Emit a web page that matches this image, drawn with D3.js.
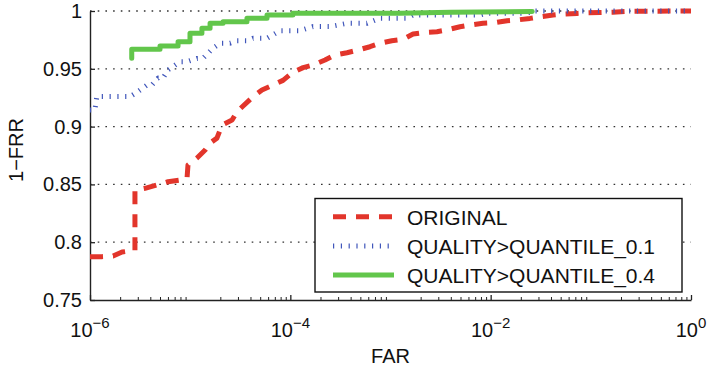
<!DOCTYPE html>
<html>
<head>
<meta charset="utf-8">
<script src="https://cdn.jsdelivr.net/npm/d3@7"></script>
<style>
  html, body { margin: 0; padding: 0; background: #fff; }
  svg { display: block; }
  text { font-family: "Liberation Sans", Arial, Helvetica, sans-serif; fill: #111; }
</style>
</head>
<body>
<svg id="chart" width="707" height="368"></svg>
<script>
// ROC-style curves: 1-FRR against FAR (log scale)
const seriesNames = ["ORIGINAL", "QUALITY>QUANTILE_0.1", "QUALITY>QUANTILE_0.4"];

const originalFar = [1e-6, 1.31e-6, 1.70e-6, 2.09e-6, 2.81e-6, 2.81e-6, 3.54e-6, 4.67e-6, 6.01e-6, 7.91e-6,
  9.3e-6, 9.51e-6, 1.17e-5, 1.41e-5, 1.58e-5, 1.85e-5, 2.08e-5, 2.62e-5, 2.94e-5, 4.24e-5, 5.21e-5,
  6.71e-5, 8.45e-5, 1.06e-4, 1.34e-4, 1.68e-4, 2.22e-4, 2.79e-4, 3.68e-4, 4.73e-4, 6.24e-4, 7.85e-4,
  1.03e-3, 1.33e-3, 1.68e-3, 2.21e-3, 2.91e-3, 3.66e-3, 4.94e-3, 6.22e-3, 8.38e-3, 1.10e-2, 1.46e-2,
  1.83e-2, 2.47e-2, 3.11e-2, 4.19e-2, 5.27e-2, 7.28e-2, 9.17e-2, 0.123, 0.166, 0.246, 1];
const originalTpr = [0.7875, 0.7875, 0.788, 0.7915, 0.793, 0.845, 0.8466, 0.8495, 0.8523, 0.8538,
  0.855, 0.8668, 0.8728, 0.8797, 0.8858, 0.890, 0.9014, 0.9057, 0.913, 0.9258, 0.9317,
  0.936, 0.940, 0.947, 0.951, 0.9533, 0.9576, 0.962, 0.9639, 0.9662, 0.9691, 0.9721,
  0.9743, 0.9755, 0.9801, 0.9815, 0.9821, 0.9836, 0.9864, 0.9879, 0.9894, 0.9899, 0.9916,
  0.9922, 0.9936, 0.995, 0.9965, 0.9974, 0.9979, 0.9984, 0.9987, 0.999, 0.9997, 1];

const q01Far = [1e-6, 1.12e-6, 1.17e-6, 2.51e-6, 3.01e-6, 3.71e-6, 4.16e-6, 4.78e-6, 5.36e-6, 6.01e-6,
  7.91e-6, 9.29e-6, 1.17e-5, 1.34e-5, 1.69e-5, 1.99e-5, 2.50e-5, 2.94e-5, 3.69e-5, 4.24e-5, 5.85e-5,
  7.89e-5, 1.25e-4, 1.68e-4, 2.49e-4, 3.68e-4, 5.82e-4, 7.85e-4, 1.46e-3, 1.68e-3, 7.82e-3, 9.19e-3,
  2.31e-2, 2.64e-2, 1];
const q01Tpr = [0.9144, 0.9144, 0.926, 0.926, 0.9302, 0.936, 0.936, 0.942, 0.942, 0.949,
  0.9561, 0.9561, 0.959, 0.959, 0.9678, 0.9721, 0.9721, 0.9743, 0.9743, 0.9764, 0.9764,
  0.983, 0.983, 0.9865, 0.9865, 0.9893, 0.9893, 0.9937, 0.9937, 0.9965, 0.9965, 0.998,
  0.998, 1, 1];

const q04Far = [2.61e-6, 2.61e-6, 5.00e-6, 5.00e-6, 7.57e-6, 7.57e-6, 9.96e-6, 9.96e-6, 1.31e-5, 1.31e-5,
  1.58e-5, 1.58e-5, 2.13e-5, 2.13e-5, 3.69e-5, 3.69e-5, 5.85e-5, 5.85e-5, 1.06e-4, 1.06e-4,
  1.24e-3, 4.0e-3, 2.6e-2];
const q04Tpr = [0.9591, 0.9669, 0.9669, 0.9697, 0.9697, 0.9734, 0.9734, 0.9807, 0.9807, 0.985,
  0.985, 0.9893, 0.9893, 0.9907, 0.9907, 0.9937, 0.9937, 0.9965, 0.9965, 0.998,
  0.998, 0.999, 0.9995];

const xTickValues = [1e-6, 1e-4, 1e-2, 1];
const xTickExponents = ["\u22126", "\u22124", "\u22122", "0"];
const yTickValues = [0.75, 0.8, 0.85, 0.9, 0.95, 1];
const yTickLabels = ["0.75", "0.8", "0.85", "0.9", "0.95", "1"];

const svg = d3.select("#chart");
const plot = { left: 90, right: 691, top: 11, bottom: 300 };

const x = d3.scaleLog().domain([1e-6, 1]).range([plot.left, plot.right]);
const y = d3.scaleLinear().domain([0.75, 1]).range([plot.bottom, plot.top]);

// dotted horizontal grid
svg.append("g").selectAll("line")
  .data(yTickValues.filter(v => v > 0.75))
  .join("line")
  .attr("x1", plot.left).attr("x2", plot.right)
  .attr("y1", d => y(d)).attr("y2", d => y(d))
  .attr("stroke", "#333").attr("stroke-width", 1.3)
  .attr("stroke-dasharray", "1.6,6.1");

// minor ticks on the log axis
const minorTicks = [];
for (let e = -6; e < 0; e++) for (let m = 2; m <= 9; m++) minorTicks.push(m * Math.pow(10, e));

const xMinor = svg.append("g").attr("transform", `translate(0,${plot.bottom})`)
  .call(d3.axisBottom(x).tickValues(minorTicks).tickSize(-3).tickSizeOuter(0).tickFormat(""));
xMinor.select(".domain").remove();
xMinor.selectAll("line").attr("stroke", "#222");

const xAxis = svg.append("g").attr("transform", `translate(0,${plot.bottom})`)
  .call(d3.axisBottom(x).tickValues(xTickValues).tickSize(-5).tickSizeOuter(0).tickFormat(""));
xAxis.select(".domain").attr("stroke", "#222").attr("stroke-width", 1.4);
xAxis.selectAll("line").attr("stroke", "#222").attr("stroke-width", 1.3);

const xLabels = svg.append("g").selectAll("text")
  .data(xTickValues)
  .join("text")
  .attr("x", d => x(d))
  .attr("y", 337)
  .attr("text-anchor", "middle")
  .attr("font-size", 20);
xLabels.append("tspan").text("10");
xLabels.append("tspan").attr("dy", -9).attr("font-size", 15)
  .text((d, i) => xTickExponents[i]);

const yAxis = svg.append("g").attr("transform", `translate(${plot.left},0)`)
  .call(d3.axisLeft(y).tickValues(yTickValues).tickSize(-5).tickSizeOuter(0).tickPadding(8)
    .tickFormat((d, i) => yTickLabels[i]));
yAxis.select(".domain").attr("stroke", "#222").attr("stroke-width", 1.4);
yAxis.selectAll("line").attr("stroke", "#222").attr("stroke-width", 1.3);
yAxis.selectAll("text").attr("font-size", 20).attr("font-family", null).attr("fill", "#111");

svg.append("text").attr("x", (plot.left + plot.right) / 2).attr("y", 363)
  .attr("text-anchor", "middle").attr("font-size", 20).text("FAR");
svg.append("text").attr("transform", "translate(23,150) rotate(-90)")
  .attr("text-anchor", "middle").attr("font-size", 20).text("1\u2212FRR");

// curves
const line = d3.line().x(d => x(d[0])).y(d => y(d[1]));
const styles = [
  { color: "#e2352b", width: 5, dash: "13,10", cap: "butt" },
  { color: "#4157bb", width: 5, dash: "1.2,6.6", cap: "butt" },
  { color: "#62c64b", width: 5, dash: null, cap: "round" }
];
const seriesData = [
  d3.zip(originalFar, originalTpr),
  d3.zip(q01Far, q01Tpr),
  d3.zip(q04Far, q04Tpr)
];

svg.append("g").selectAll("path")
  .data(seriesData)
  .join("path")
  .attr("d", line)
  .attr("fill", "none")
  .attr("stroke", (d, i) => styles[i].color)
  .attr("stroke-width", (d, i) => styles[i].width)
  .attr("stroke-dasharray", (d, i) => styles[i].dash)
  .attr("stroke-linecap", (d, i) => styles[i].cap)
  .attr("stroke-linejoin", "round");

// legend
const legend = svg.append("g");
legend.append("rect")
  .attr("x", 315).attr("y", 198.5).attr("width", 367).attr("height", 93.5)
  .attr("fill", "#fff").attr("stroke", "#111").attr("stroke-width", 1.4);
const rowY = [216.7, 246, 275];
const rows = legend.selectAll("g.row")
  .data(seriesNames)
  .join("g").attr("class", "row")
  .attr("transform", (d, i) => `translate(0,${rowY[i]})`);
rows.append("line")
  .attr("x1", 333).attr("x2", 394).attr("y1", 0).attr("y2", 0)
  .attr("stroke", (d, i) => styles[i].color)
  .attr("stroke-width", (d, i) => styles[i].width)
  .attr("stroke-dasharray", (d, i) => styles[i].dash)
  .attr("stroke-linecap", "butt");
rows.append("text")
  .attr("x", 407).attr("y", 8)
  .attr("font-size", 21)
  .text(d => d);
</script>
</body>
</html>
